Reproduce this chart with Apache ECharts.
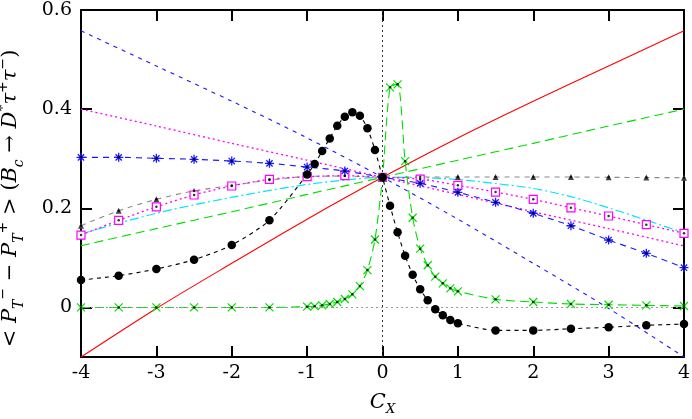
<!DOCTYPE html>
<html>
<head>
<meta charset="utf-8">
<script src="https://cdn.jsdelivr.net/npm/echarts@6/dist/echarts.min.js"></script>
<style>
html,body{margin:0;padding:0;background:#fff;}
#c{width:692px;height:419px;}
</style>
</head>
<body>
<div id="c"></div>
<script>
// ---- data ----
const xLine = [-4, -3, -2, -1, 0, 1, 2, 3, 4];
const redVals = [-0.1, -0.002, 0.089, 0.178, 0.2625, 0.342, 0.416, 0.487, 0.558];
const blueShortVals = [0.558, 0.487, 0.416, 0.342, 0.2625, 0.178, 0.089, -0.002, -0.1];
const greenLineVals = [0.1245, 0.159, 0.193, 0.228, 0.2625, 0.297, 0.331, 0.366, 0.400];
const magentaLineVals = [0.400, 0.366, 0.331, 0.297, 0.2625, 0.228, 0.193, 0.159, 0.124];

const xHalf = [-4, -3.5, -3, -2.5, -2, -1.5, -1, -0.5, 0, 0.5, 1, 1.5, 2, 2.5, 3, 3.5, 4];
const cyanVals = [0.148, 0.170, 0.190, 0.207, 0.222, 0.236, 0.248, 0.257, 0.2625, 0.262, 0.258, 0.250, 0.240, 0.2235, 0.201, 0.176, 0.1505];
const grayVals = [0.165, 0.195, 0.218, 0.235, 0.246, 0.257, 0.264, 0.265, 0.2625, 0.263, 0.263, 0.263, 0.263, 0.263, 0.2625, 0.262, 0.2617];
const squareVals = [0.146, 0.1757, 0.203, 0.2268, 0.245, 0.2584, 0.2637, 0.2657, 0.2625, 0.259, 0.2463, 0.2328, 0.218, 0.201, 0.1844, 0.1669, 0.1495];
const starVals = [0.3028, 0.3028, 0.3008, 0.2988, 0.2953, 0.2907, 0.2832, 0.2752, 0.2625, 0.2503, 0.2322, 0.212, 0.1898, 0.1648, 0.136, 0.1091, 0.0801];

const xPeak = [-4, -3.5, -3, -2.5, -2, -1.5, -1, -0.9, -0.8, -0.7, -0.6, -0.5, -0.4, -0.3, -0.2, -0.1, 0, 0.1, 0.2, 0.3, 0.4, 0.5, 0.6, 0.7, 0.8, 0.9, 1, 1.5, 2, 2.5, 3, 3.5, 4];
const blackVals = [0.0553, 0.064, 0.0775, 0.0963, 0.126, 0.1757, 0.268, 0.2893, 0.3155, 0.341, 0.3666, 0.3848, 0.3936, 0.3867, 0.3613, 0.3175, 0.2625, 0.2052, 0.1515, 0.1043, 0.066, 0.0365, 0.0143, -0.0038, -0.016, -0.0254, -0.032, -0.0463, -0.0463, -0.043, -0.040, -0.036, -0.0335];
const greenPeakVals = [0, 0, 0, 0, 0, 0, 0.0015, 0.0025, 0.0042, 0.0069, 0.011, 0.017, 0.0264, 0.043, 0.0754, 0.137, 0.2625, 0.444, 0.450, 0.295, 0.181, 0.1185, 0.085, 0.062, 0.0486, 0.0385, 0.0325, 0.0163, 0.011, 0.0069, 0.0055, 0.0042, 0.0028];

const xTicks = [-4, -3, -2, -1, 0, 1, 2, 3, 4];
const yTicks = [0, 0.2, 0.4, 0.6];
const yTickLabels = ['0', '0.2', '0.4', '0.6'];

// ---- build ----
const pairs = (xs, ys) => xs.map((x, i) => [x, ys[i]]);
const FONT = 'DejaVu Serif';

const STAR = 'path://M5,0L5,10M0,5L10,5M1.5,1.5L8.5,8.5M8.5,1.5L1.5,8.5';
const CROSS = 'path://M0,0L10,10M10,0L0,10';

function lineSeries(data, color, dash, width, opts) {
  return Object.assign({
    type: 'line', data: data, showSymbol: false, symbol: 'none',
    lineStyle: {color: color, width: width || 1, type: dash},
    silent: true, z: 3
  }, opts || {});
}
function dotSeries(data) {
  return {type: 'scatter', data: data, symbol: 'circle', symbolSize: 2.5,
    itemStyle: {color: '#000'}, silent: true, z: 6};
}

const series = [
  {type: 'line', data: [], markLine: {silent: true, symbol: 'none', label: {show: false},
    data: [
      {yAxis: 0, lineStyle: {color: '#999', type: [2, 3], width: 1.2}},
      {xAxis: 0, lineStyle: {color: '#333', type: [2, 3], width: 1}}
    ]}},
  lineSeries(pairs(xLine, greenLineVals), '#00dd00', [9, 5], 1.1, {smooth: 0.3}),
  lineSeries(pairs(xLine, magentaLineVals), '#ff00ff', [2, 3], 1.3, {smooth: 0.3}),
  lineSeries(pairs(xLine, blueShortVals), '#1a1aff', [4, 5], 1.1, {smooth: 0.3}),
  lineSeries(pairs(xHalf, cyanVals), '#00e5ff', [9, 3, 2, 3], 1.2, {smooth: 0.3}),
  {type: 'line', data: pairs(xHalf, grayVals), smooth: 0.3, symbol: 'triangle', symbolSize: 6, showSymbol: true,
    lineStyle: {color: '#888', width: 1.1, type: [5, 5]},
    itemStyle: {color: '#444'}, silent: true, z: 4},
  {type: 'line', data: pairs(xHalf, squareVals), smooth: 0.3, symbol: 'rect', symbolSize: 8, showSymbol: true,
    lineStyle: {color: '#ff00ff', width: 1.3, type: [2, 3]},
    itemStyle: {color: '#fff', borderColor: '#ff00ff', borderWidth: 1.2}, silent: true, z: 4},
  {type: 'line', data: pairs(xHalf, starVals), smooth: 0.3, symbol: STAR, symbolSize: 9, showSymbol: true,
    lineStyle: {color: '#1a1aff', width: 1.1, type: [6, 5]},
    itemStyle: {color: 'rgba(0,0,0,0)', borderColor: '#1a1aff', borderWidth: 1.3}, silent: true, z: 4},
  lineSeries(pairs(xLine, redVals), '#ff0000', 'solid', 1.1, {smooth: 0.3, z: 4}),
  {type: 'line', data: pairs(xPeak, greenPeakVals), smooth: 0.25, symbol: CROSS, symbolSize: 8, showSymbol: true,
    lineStyle: {color: '#00dd00', width: 1.1, type: [9, 5]},
    itemStyle: {color: 'rgba(0,0,0,0)', borderColor: '#00dd00', borderWidth: 1.2}, silent: true, z: 4},
  {type: 'line', data: pairs(xPeak, blackVals), smooth: 0.25, symbol: 'circle', symbolSize: 8.5, showSymbol: true,
    lineStyle: {color: '#000', width: 1.1, type: [4, 4]},
    itemStyle: {color: '#000'}, silent: true, z: 5},
  dotSeries(pairs(xHalf, squareVals)),
  dotSeries(pairs(xHalf, starVals)),
  dotSeries(pairs(xHalf, grayVals)),
  dotSeries(pairs(xPeak, greenPeakVals))
];

const tickStyle = {show: true, inside: true, length: 11, lineStyle: {color: '#000', width: 2}};
const lineAx = {show: true, onZero: false, lineStyle: {color: '#000', width: 2}};

const option = {
  animation: false,
  backgroundColor: '#fff',
  textStyle: {fontFamily: FONT},
  grid: {left: 81, right: 8, top: 10, bottom: 62, containLabel: false, outerBoundsMode: 'none'},
  xAxis: [
    {type: 'value', min: -4, max: 4, interval: 1, position: 'bottom',
      axisLine: lineAx, axisTick: tickStyle, splitLine: {show: false},
      axisLabel: {color: '#000', fontFamily: FONT, fontSize: 19, margin: 7,
        customValues: xTicks, formatter: v => String(v)},
      name: '{i|C}{sub|X}', nameLocation: 'middle', nameGap: 33,
      nameTextStyle: {rich: {
        i: {fontFamily: FONT, fontStyle: 'italic', fontSize: 21, color: '#000', lineHeight: 26, verticalAlign: 'middle'},
        sub: {fontFamily: FONT, fontStyle: 'italic', fontSize: 13, color: '#000', lineHeight: 13, verticalAlign: 'bottom'}
      }}},
    {type: 'value', min: -4, max: 4, interval: 1, position: 'top',
      axisLine: lineAx, axisTick: tickStyle, axisLabel: {show: false}, splitLine: {show: false}}
  ],
  yAxis: [
    {type: 'value', min: -0.1, max: 0.6, position: 'left',
      axisLine: lineAx,
      axisTick: Object.assign({}, tickStyle, {customValues: yTicks}),
      splitLine: {show: false},
      axisLabel: {color: '#000', fontFamily: FONT, fontSize: 19, margin: 9,
        customValues: yTicks, formatter: v => yTickLabels[yTicks.indexOf(+v.toFixed(2))] || ''},
      name: '{n|< }{i|P}{sub|T}{sup|−}{n| − }{i|P}{sub|T}{sup|+}{n| > (}{i|B}{sub|c}{n| → }{i|D}{sup|*}{i|τ}{sup|+}{i|τ}{sup|−}{n|)}',
      nameLocation: 'middle', nameGap: 55, nameRotate: 90,
      nameTextStyle: {padding: [0, 30, 0, 0], rich: {
        n: {fontFamily: FONT, fontSize: 21, color: '#000', lineHeight: 30, verticalAlign: 'middle'},
        i: {fontFamily: FONT, fontStyle: 'italic', fontSize: 21, color: '#000', lineHeight: 30, verticalAlign: 'middle'},
        sub: {fontFamily: FONT, fontStyle: 'italic', fontSize: 14, color: '#000', lineHeight: 14, verticalAlign: 'bottom'},
        sup: {fontFamily: FONT, fontSize: 14, color: '#000', lineHeight: 14, verticalAlign: 'top'}
      }}},
    {type: 'value', min: -0.1, max: 0.6, position: 'right',
      axisLine: lineAx,
      axisTick: Object.assign({}, tickStyle, {customValues: yTicks}),
      axisLabel: {show: false}, splitLine: {show: false}}
  ],
  series: series
};

const chart = echarts.init(document.getElementById('c'), null, {renderer: 'canvas'});
chart.setOption(option);
</script>
</body>
</html>
